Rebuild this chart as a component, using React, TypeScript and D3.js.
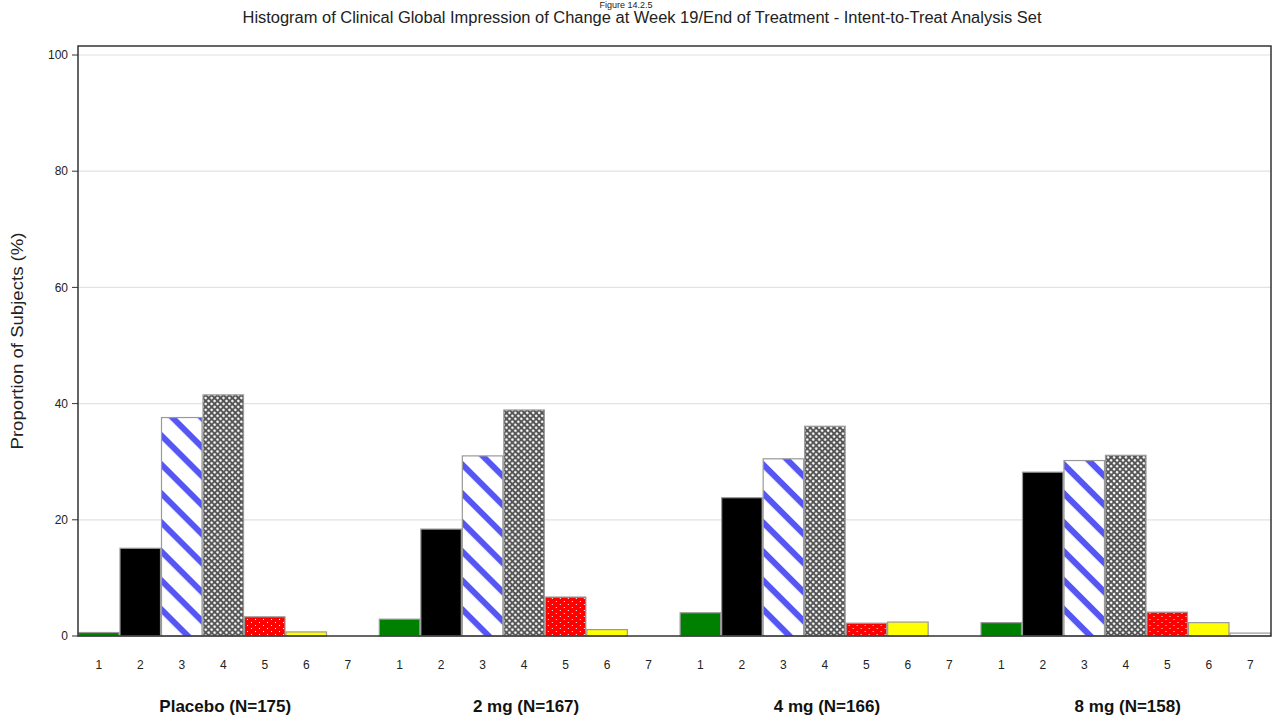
import React from "react";
import * as d3 from "d3";

const groups = ["Placebo (N=175)", "2 mg (N=167)", "4 mg (N=166)", "8 mg (N=158)"];
const categories = ["1", "2", "3", "4", "5", "6", "7"];
const placebo = [0.6, 15.1, 37.6, 41.5, 3.3, 0.7, 0];
const mg2 = [2.9, 18.4, 31.0, 38.9, 6.7, 1.1, 0];
const mg4 = [4.0, 23.8, 30.5, 36.1, 2.2, 2.4, 0];
const mg8 = [2.3, 28.2, 30.2, 31.1, 4.1, 2.3, 0.5];
const seriesValues = [placebo, mg2, mg4, mg8];
const yTicks = [0, 20, 40, 60, 80, 100];
const yLabel = "Proportion of Subjects (%)";
const title = "Histogram of Clinical Global Impression of Change at Week 19/End of Treatment - Intent-to-Treat Analysis Set";
const figLabel = "Figure 14.2.5";

const fills = ["#008000", "#000000", "url(#stripe)", "url(#cross)", "url(#reddot)", "#ffff00", "#ffffff"];

export default function App() {
  const W = 1273, H = 717;
  const left = 78, right = 1271, top = 46, bottom = 636;
  const x0 = d3.scaleBand<string>().domain(groups).range([left, right]).paddingInner(0.0343).paddingOuter(0);
  const x1 = d3.scaleBand<string>().domain(categories).range([0, x0.bandwidth()]).padding(0);
  const y = d3.scaleLinear().domain([0, 100]).range([bottom, 55]);
  const font = "'Liberation Sans', Arial, sans-serif";

  return (
    <svg width={W} height={H} style={{ position: "absolute", left: 0, top: 0, background: "#fff" }} fontFamily={font}>
      <defs>
        <pattern id="stripe" patternUnits="userSpaceOnUse" width={20.5} height={20.5} patternTransform="rotate(45)">
          <rect width={20.5} height={20.5} fill="#fff" />
          <rect y={0} width={20.5} height={6} fill="#5656f4" />
        </pattern>
        <pattern id="cross" patternUnits="userSpaceOnUse" width={4.2} height={4.2} patternTransform="rotate(45)">
          <rect width={4.2} height={4.2} fill="#555" />
          <circle cx={2.1} cy={2.1} r={1.3} fill="#fff" />
        </pattern>
        <pattern id="reddot" patternUnits="userSpaceOnUse" width={8} height={6}>
          <rect width={8} height={6} fill="#ff0000" />
          <rect x={1} y={1} width={1} height={1} fill="#fff" />
          <rect x={5} y={4} width={1} height={1} fill="#fff" />
        </pattern>
      </defs>

      <text x={626} y={8} textAnchor="middle" fontSize={9} fill="#222">{figLabel}</text>
      <text x={642} y={23} textAnchor="middle" fontSize={16} fill="#222" textLength={799} lengthAdjust="spacingAndGlyphs">{title}</text>

      {yTicks.filter(t => t > 0).map(t => (
        <line key={"g" + t} x1={left} x2={right} y1={y(t)} y2={y(t)} stroke="#e2e2e2" strokeWidth={1.2} />
      ))}

      {groups.map((g, gi) => (
        <g key={g} transform={`translate(${x0(g)},0)`}>
          {categories.map((c, ci) => {
            const v = seriesValues[gi][ci];
            const bx = x1(c)!;
            const by = y(v);
            return (
              <rect key={c} x={bx + 0.5} y={by} width={x1.bandwidth() - 1} height={Math.max(0, bottom - by)}
                fill={fills[ci]} stroke="#999" strokeWidth={1.2} />
            );
          })}
          {categories.map(c => (
            <text key={"t" + c} x={x1(c)! + x1.bandwidth() / 2} y={669} textAnchor="middle" fontSize={12} fill="#222">{c}</text>
          ))}
          <text x={x0.bandwidth() / 2 + 2} y={712} textAnchor="middle" fontSize={17} fontWeight="bold" fill="#111">{g}</text>
        </g>
      ))}

      <rect x={left} y={top} width={right - left} height={bottom - top} fill="none" stroke="#333" strokeWidth={1.5} />

      {yTicks.map(t => (
        <g key={"y" + t}>
          <line x1={left - 6} x2={left} y1={y(t)} y2={y(t)} stroke="#333" strokeWidth={1} />
          <text x={left - 10} y={y(t)} dy="0.35em" textAnchor="end" fontSize={12} fill="#222">{t}</text>
        </g>
      ))}

      <text transform={`translate(23,${341}) rotate(-90)`} textAnchor="middle" fontSize={17} fill="#222" textLength={217} lengthAdjust="spacingAndGlyphs">{yLabel}</text>
    </svg>
  );
}
